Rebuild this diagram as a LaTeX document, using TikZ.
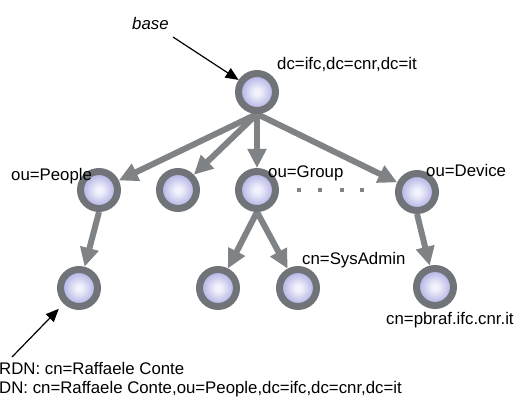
\documentclass[tikz,border=0pt]{standalone}
\usepackage{fontspec}
\setmainfont{Liberation Sans}
\usetikzlibrary{arrows.meta,shadows,backgrounds}
\definecolor{ringgray}{RGB}{112,116,120}
\definecolor{arrowgray}{RGB}{128,131,134}
\definecolor{lav}{RGB}{138,138,210}
\definecolor{lavmid}{RGB}{186,186,232}
\definecolor{lavhi}{RGB}{242,242,252}
% soft glassy fill for the directory entries
\pgfdeclareradialshading{ball}{\pgfpoint{0bp}{0bp}}{color(0bp)=(lavhi); color(4bp)=(lavhi); color(20bp)=(lavmid); color(38bp)=(lav); color(50bp)=(lav)}

\begin{document}
\begin{tikzpicture}[x=1pt,y=-1pt,
  dnode/.style={circle, minimum size=37pt, inner sep=0pt, line width=7pt,
    draw=ringgray, shading=ball,
    drop shadow={opacity=0.2, shadow xshift=2pt, shadow yshift=-2pt}},
  edgearrow/.style={draw=arrowgray, line width=6pt,
    -{Triangle[length=19pt,width=18pt]}},
  tag/.style={anchor=base west, inner sep=0pt, font=\fontsize{16.8}{19}\selectfont},
  callout/.style={draw=black, line width=1.2pt, -{Triangle[length=13pt,width=11pt]}},
  dotmark/.style={fill=arrowgray, minimum size=4pt, inner sep=0pt}]
\useasboundingbox (0,0) rectangle (515,404);

% directory tree
\node[dnode] (root)   at (257,92)  {};
\node[dnode] (people) at (99,190)  {};
\node[dnode] (other)  at (178,190) {};
\node[dnode] (group)  at (257,190) {};
\node[dnode] (device) at (417,192) {};
\node[dnode] (person) at (79,288)  {};
\node[dnode] (memA)   at (218,288) {};
\node[dnode] (admin)  at (298,288) {};
\node[dnode] (host)   at (435,287) {};

\begin{scope}[on background layer]
  \draw[edgearrow] (root.south) -- (people);
  \draw[edgearrow] (root.south) -- (other);
  \draw[edgearrow] (root.south) -- (group);
  \draw[edgearrow] (root.south) -- (device);
  \draw[edgearrow] (people.south) -- (person);
  \draw[edgearrow] (group.south) -- (memA);
  \draw[edgearrow] (group.south) -- (admin);
  \draw[edgearrow] (device.south) -- (host);
\end{scope}

% ellipsis between siblings
\node[dotmark] (d1) at (299,190) {};
\node[dotmark] (d2) at (320,190) {};
\node[dotmark] (d3) at (342,190) {};
\node[dotmark] (d4) at (362,190) {};

% labels
\node[tag] (tbase)   at (132,30)  {\itshape base};
\node[tag] (troot)   at (277,70)  {dc=ifc,dc=cnr,dc=it};
\node[tag] (tpeople) at (11,180)  {ou=People};
\node[tag] (tgroup)  at (268,178) {ou=Group};
\node[tag] (tdevice) at (426,177) {ou=Device};
\node[tag] (tadmin)  at (302,264) {cn=SysAdmin};
\node[tag] (thost)   at (386,324) {cn=pbraf.ifc.cnr.it};
\node[tag] (trdn)    at (-1,374)  {RDN: cn=Raffaele Conte};
\node[tag] (tdn)     at (-1,393)  {DN: cn=Raffaele Conte,ou=People,dc=ifc,dc=cnr,dc=it};

% pointers
\coordinate (bstart) at (173,37);
\coordinate (rstart) at (12,357);
\draw[callout] (bstart) -- (root);
\draw[callout, shorten >=7pt] (rstart) -- (person);
\end{tikzpicture}
\end{document}
